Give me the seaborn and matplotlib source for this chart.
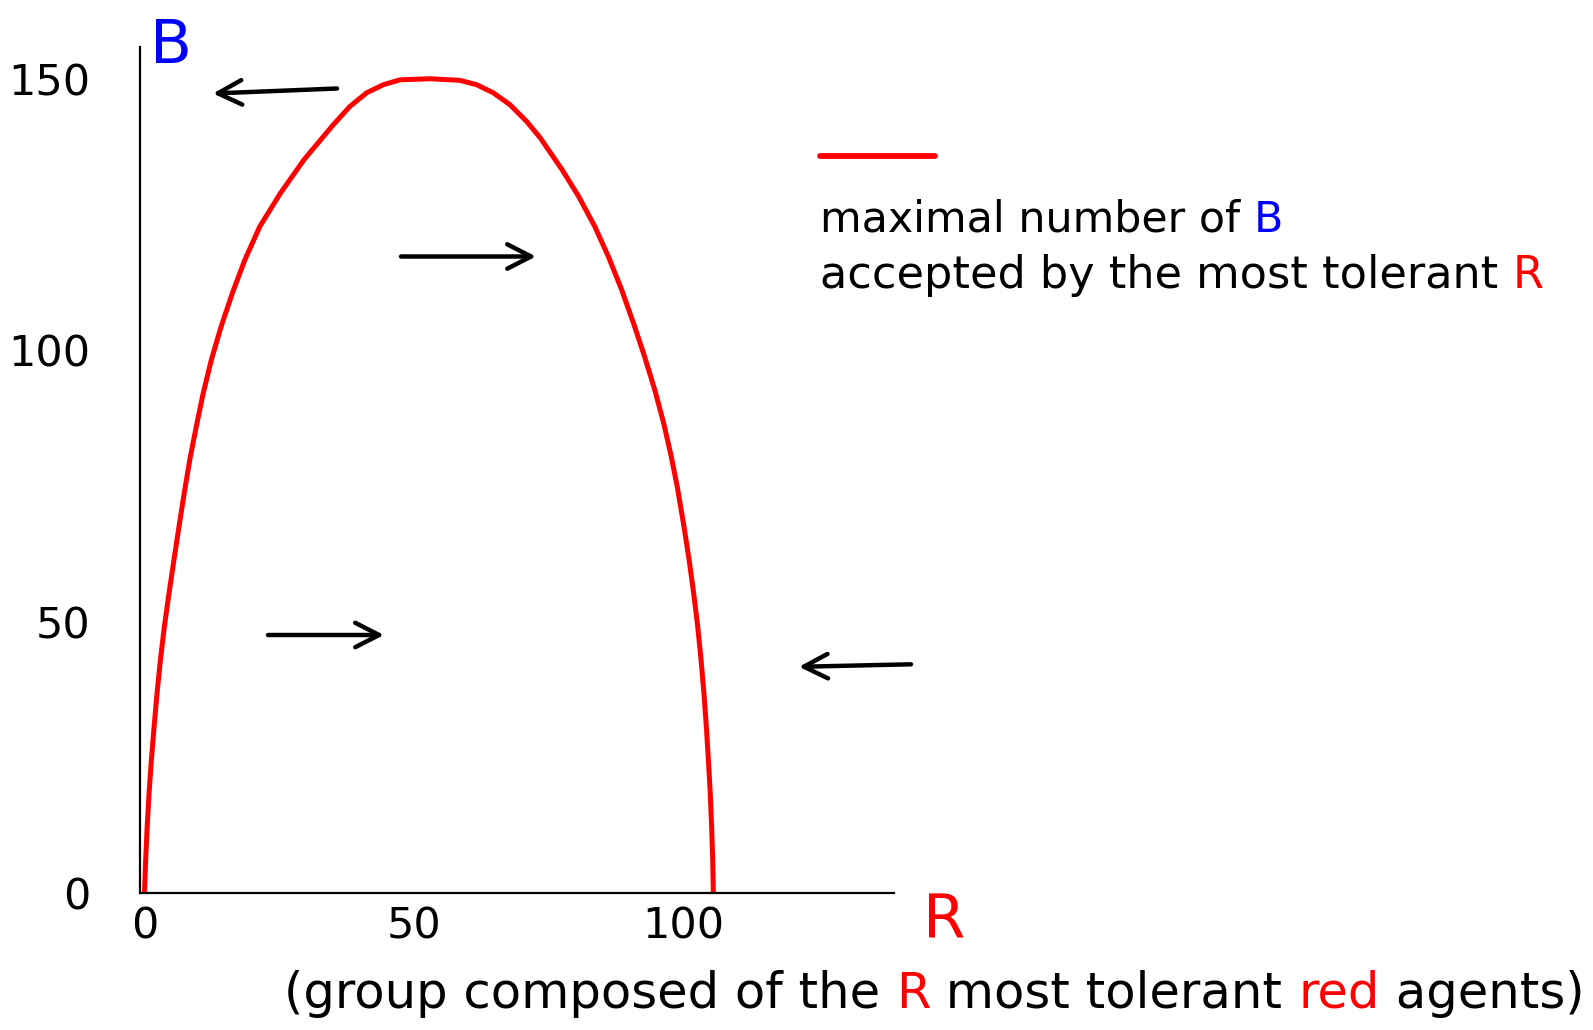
import matplotlib
matplotlib.use("Agg")
import matplotlib.pyplot as plt
from matplotlib.lines import Line2D
from matplotlib.patches import FancyArrowPatch
import seaborn as sns

# Group of the R most tolerant red agents vs. the maximal number of blue
# agents that the most tolerant red member of that group still accepts.
R_vals = [0, 0.22, 0.5, 0.85, 1.28, 1.78, 2.33, 2.95, 3.69, 4.55, 5.47, 6.4,
          7.38, 8.4, 9.6, 10.9, 12.4, 14.2, 16.3, 18.6, 21.4, 25.2, 29.6,
          35.0, 38.1, 41.2, 44.3, 47.4, 53.0, 58.5, 61.6, 64.7, 67.8, 70.9,
          73.4, 77.47, 80.53, 83.5, 86.05, 88.5, 90.68, 92.75, 94.63, 96.3, 97.69,
          98.85, 100.05, 101.0, 101.85, 102.6, 103.22, 103.75, 104.2, 104.58, 104.92,
          105.18, 105.38, 105.5]
B_vals = [0, 6.1, 12.2, 18.4, 24.5, 30.6, 36.8, 42.9, 49.1, 55.2, 61.4, 67.5,
          73.7, 79.8, 85.9, 92.1, 98.2, 104.3, 110.5, 116.6, 122.8, 128.9, 135.1,
          141.5, 144.9, 147.4, 148.9, 149.8, 150.0, 149.7, 148.9, 147.4, 145.2, 142.1,
          139.1, 133.2, 128.3, 122.8, 117.2, 111.1, 105.0, 98.8, 92.7, 86.5, 80.4,
          74.6, 67.5, 61.4, 55.2, 49.1, 42.9, 36.8, 30.6, 24.5, 18.4,
          12.2, 6.1, 0]

x_ticks = [0, 50, 100]
y_ticks = [0, 50, 100, 150]

legend_line1 = [("maximal number of ", "black"), ("B", "blue")]
legend_line2 = [("accepted by the most tolerant ", "black"), ("R", "red")]
xlabel_parts = [("(group composed of the ", "black"), ("R", "red"),
                (" most tolerant ", "black"), ("red", "red"), (" agents)", "black")]

RED = (1, 0, 0)
BLUE = (0, 0, 1)

sns.set_style("white")
plt.rcParams["font.family"] = ["DejaVu Sans"]

W, H = 1593, 1030
fig = plt.figure(figsize=(W / 100, H / 100), dpi=100)
fig.patch.set_facecolor("white")


def fx(x):
    return x / W


def fy(y):
    return 1 - y / H


ax = fig.add_axes([fx(140), fy(893), (894 - 140) / W, (893 - 46.7) / H])
sns.lineplot(x=R_vals, y=B_vals, sort=False, color=RED, lw=3.6, ax=ax,
             clip_on=False, solid_capstyle="butt", solid_joinstyle="round")
ax.set_xlim(-0.83, 139.0)
ax.set_ylim(0, 155.9)
ax.set_xticks(x_ticks)
ax.set_yticks(y_ticks)
ax.set_xticklabels([str(v) for v in x_ticks])
ax.set_yticklabels([str(v) for v in y_ticks])
ax.tick_params(axis="both", length=0, labelsize=31, labelcolor="black")
ax.tick_params(axis="y", pad=36)
ax.tick_params(axis="x", pad=9)
ax.set_xlabel("")
ax.set_ylabel("")
sns.despine(ax=ax)
for side in ("left", "bottom"):
    ax.spines[side].set_color("black")
    ax.spines[side].set_linewidth(1.6)

# axis letters
fig.text(fx(150), fy(63), "B", color=BLUE, fontsize=44, ha="left", va="baseline")
fig.text(fx(923), fy(938), "R", color=RED, fontsize=44, ha="left", va="baseline")

renderer = fig.canvas.get_renderer()


def text_width(s, size):
    probe = fig.text(0, 0, s + "|", fontsize=size)
    bar = fig.text(0, 0, "|", fontsize=size)
    w = probe.get_window_extent(renderer).width - bar.get_window_extent(renderer).width
    probe.remove()
    bar.remove()
    return w


def colored_line(parts, x_left, baseline, target_width):
    base = 10.0
    total = sum(text_width(s, base) for s, _ in parts)
    size = base * target_width / total
    x = x_left
    for s, c in parts:
        fig.text(fx(x), fy(baseline), s, color=c, fontsize=size,
                 ha="left", va="baseline")
        x += text_width(s, size)


# legend swatch and description
fig.add_artist(Line2D([fx(820), fx(935)], [fy(155.7), fy(155.7)],
                      transform=fig.transFigure, color=RED, lw=4.2))
colored_line(legend_line1, 820, 231.7, 463)
colored_line(legend_line2, 820, 288, 723)

# horizontal axis description
colored_line(xlabel_parts, 284, 1008, 1298)

# movement arrows (tail -> head, in pixels)
arrows = [((337, 88.5), (213, 93.5)),
          ((401, 256.5), (536, 256.5)),
          ((268, 635), (384, 635)),
          ((911, 664.3), (799, 666.8))]
for (tx, ty), (hx, hy) in arrows:
    fig.add_artist(FancyArrowPatch(
        (fx(tx), fy(ty)), (fx(hx), fy(hy)), transform=fig.transFigure,
        arrowstyle="->,head_length=0.43,head_width=0.22", mutation_scale=40,
        lw=3.2, color="black", shrinkA=0, shrinkB=0, capstyle="round",
        joinstyle="round"))

fig.savefig("out.png", dpi=100, facecolor="white")
